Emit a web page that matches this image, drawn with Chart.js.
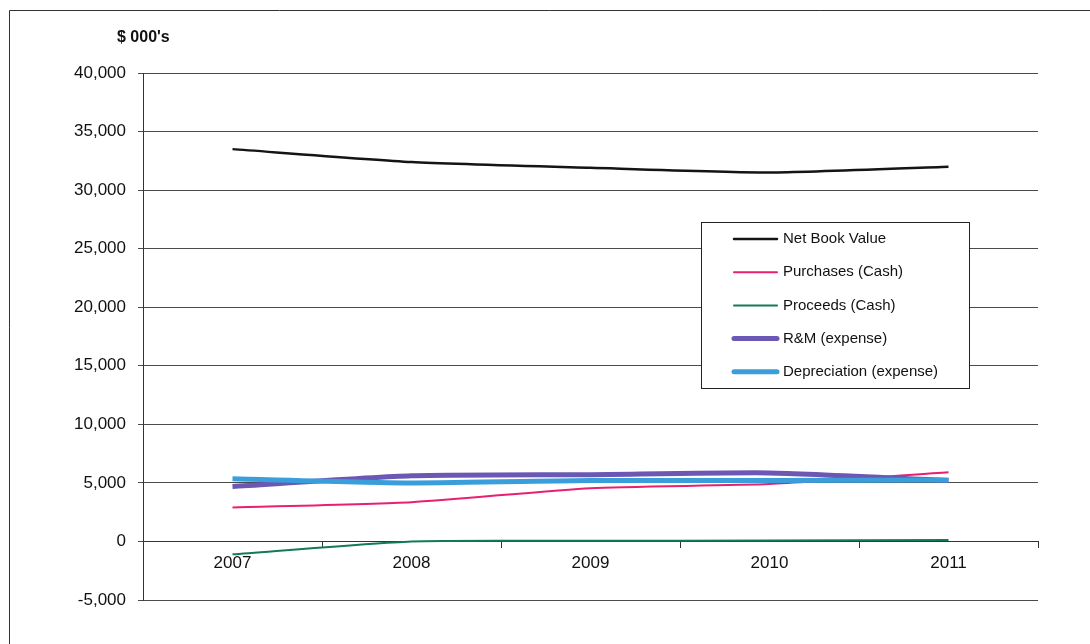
<!DOCTYPE html>
<html>
<head>
<meta charset="utf-8">
<script src="https://cdn.jsdelivr.net/npm/chart.js@4/dist/chart.umd.min.js"></script>
<style>
  html, body { margin: 0; padding: 0; background: #ffffff; }
  #wrap { width: 1090px; height: 644px; }
</style>
</head>
<body>
<div id="wrap"><canvas id="chart" width="1090" height="644"></canvas></div>
<script>
// Fixed-asset figures, $ thousands
const years = ['2007', '2008', '2009', '2010', '2011'];
const netBookValue = [33500, 32400, 31900, 31500, 32000];
const purchasesCash = [2900, 3350, 4550, 4900, 5900];
const proceedsCash = [-1100, 0, 50, 80, 120];
const rmExpense = [4700, 5600, 5700, 5850, 5200];
const depreciationExpense = [5350, 5000, 5200, 5200, 5250];

const seriesNames = ['Net Book Value', 'Purchases (Cash)', 'Proceeds (Cash)', 'R&M (expense)', 'Depreciation (expense)'];
const unitLabel = "$ 000's";
const yMin = -5000, yMax = 40000, yStep = 5000;

const FONT = '"Liberation Sans", Arial, sans-serif';

// White page with the frame on its top and left edges, plus the unit caption
const framePlugin = {
  id: 'frame',
  beforeDraw(chart) {
    const ctx = chart.ctx;
    ctx.save();
    ctx.fillStyle = '#ffffff';
    ctx.fillRect(0, 0, chart.width, chart.height);
    ctx.strokeStyle = '#333333';
    ctx.lineWidth = 1;
    ctx.beginPath();
    ctx.moveTo(9.5, chart.height);
    ctx.lineTo(9.5, 10.5);
    ctx.lineTo(chart.width, 10.5);
    ctx.stroke();
    ctx.fillStyle = '#111111';
    ctx.font = 'bold 16px ' + FONT;
    ctx.textBaseline = 'middle';
    ctx.textAlign = 'left';
    ctx.fillText(unitLabel, 117, 38);
    ctx.restore();
  }
};

// Boxed legend sitting inside the plot area
const boxLegendPlugin = {
  id: 'boxLegend',
  afterDatasetsDraw(chart) {
    const ctx = chart.ctx;
    const x0 = 701.5, y0 = 222.5, w = 268, h = 166;
    ctx.save();
    ctx.fillStyle = '#ffffff';
    ctx.fillRect(x0, y0, w, h);
    ctx.strokeStyle = '#222222';
    ctx.lineWidth = 1;
    ctx.strokeRect(x0, y0, w, h);
    ctx.font = '15px ' + FONT;
    ctx.textBaseline = 'middle';
    ctx.textAlign = 'left';
    chart.data.datasets.forEach((ds, i) => {
      const y = 239 + i * 33.2;
      ctx.strokeStyle = ds.borderColor;
      ctx.lineWidth = ds.borderWidth;
      ctx.lineCap = 'round';
      ctx.beginPath();
      ctx.moveTo(734, y);
      ctx.lineTo(777, y);
      ctx.stroke();
      ctx.fillStyle = '#111111';
      ctx.fillText(ds.label, 783, y);
    });
    ctx.restore();
  }
};

const seriesValues = [netBookValue, purchasesCash, proceedsCash, rmExpense, depreciationExpense];
const seriesColors = ['#141414', '#e8206f', '#127a55', '#6a58b4', '#3a9edb'];
const seriesWidths = [2.5, 2, 2, 5, 5];

const datasets = seriesNames.map((name, i) => ({
  label: name,
  data: seriesValues[i],
  borderColor: seriesColors[i],
  backgroundColor: seriesColors[i],
  borderWidth: seriesWidths[i],
  pointRadius: 0,
  tension: 0.2,
  fill: false,
  order: seriesNames.length - i
}));

new Chart(document.getElementById('chart'), {
  type: 'line',
  data: { labels: years, datasets },
  plugins: [framePlugin, boxLegendPlugin],
  options: {
    responsive: false,
    animation: false,
    layout: { padding: { left: 0, right: 52, top: 73, bottom: 44 } },
    plugins: {
      legend: { display: false },
      tooltip: { enabled: false },
      title: { display: false }
    },
    scales: {
      x: {
        position: { y: 0 },
        offset: true,
        afterFit(scale) { scale.height = 0; },
        grid: {
          display: true,
          offset: true,
          drawOnChartArea: false,
          drawTicks: true,
          tickLength: 6,
          color: '#333333'
        },
        border: { display: true, color: '#333333', width: 1 },
        ticks: {
          color: '#111111',
          font: { family: FONT, size: 17 },
          padding: 6,
          maxRotation: 0
        }
      },
      y: {
        min: yMin,
        max: yMax,
        afterFit(scale) { scale.width = 143; },
        grid: {
          color: '#4a4a4a',
          lineWidth: 1,
          drawTicks: true,
          tickLength: 5
        },
        border: { display: true, color: '#333333', width: 1 },
        ticks: {
          stepSize: yStep,
          color: '#111111',
          font: { family: FONT, size: 17 },
          padding: 12,
          callback: (v) => Number(v).toLocaleString('en-US')
        }
      }
    }
  }
});
</script>
</body>
</html>
